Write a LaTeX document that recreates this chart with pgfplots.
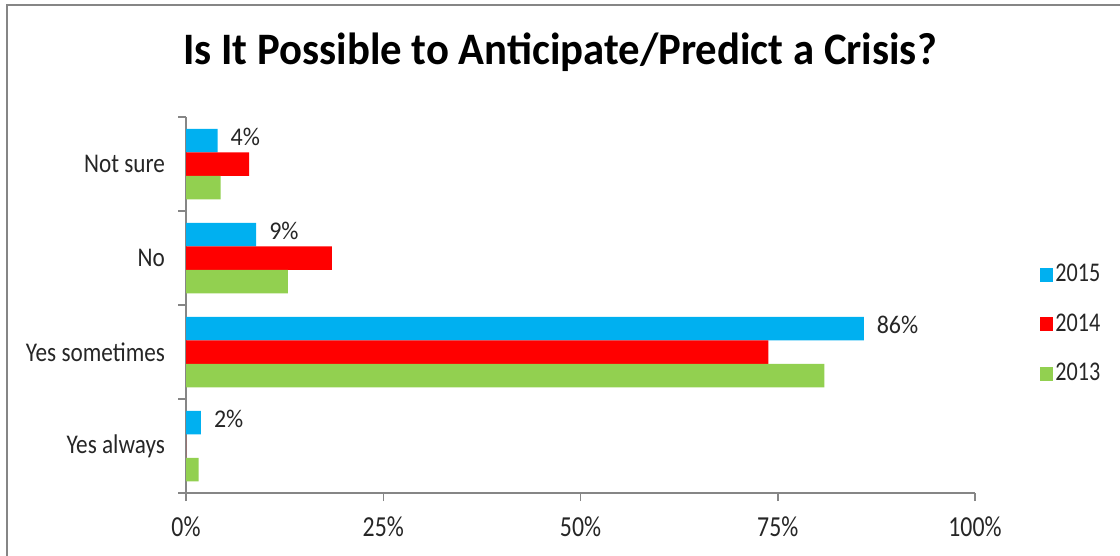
\documentclass[border=0pt]{standalone}
\usepackage{fontspec}
\setmainfont{Carlito}
\newfontfamily\titlefont[FakeStretch=0.95]{Carlito}
\newfontfamily\xfont[FakeStretch=0.82]{Carlito}
\newfontfamily\yfont[FakeStretch=0.86]{Carlito}
\newfontfamily\lfont[FakeStretch=0.82]{Carlito}
\newfontfamily\dfont[FakeStretch=0.94]{Carlito}
\usepackage{pgfplots}
\pgfplotsset{compat=1.18}
\definecolor{c2015}{RGB}{0,176,240}
\definecolor{c2014}{RGB}{255,0,0}
\definecolor{c2013}{RGB}{146,208,80}
\definecolor{axisgray}{RGB}{134,134,134}
\definecolor{txt}{RGB}{38,38,38}
\pgfplotsset{sqlegend/.style={legend image code/.code={\fill[##1,draw=none] (0pt,-3.5pt) rectangle (6.5pt,3.5pt);}}}

\begin{document}
\begin{tikzpicture}
\path[use as bounding box] (0pt,0pt) rectangle (560pt,-278pt);
% chart frame, only left and top edges are in view
\draw[axisgray, line width=1pt] (3.5pt,-278pt) -- (3.5pt,-2.5pt) -- (560pt,-2.5pt);
\node[font=\titlefont\fontsize{22.5}{26}\selectfont\bfseries] at (280pt,-26pt) {Is It Possible to Anticipate/Predict a Crisis?};
\begin{axis}[
    at={(93pt,-246.5pt)}, anchor=south west,
    scale only axis, width=394.5pt, height=188pt,
    xbar, bar width=0.25,
    xmin=0, xmax=100, ymin=-0.5, ymax=3.5,
    axis x line=bottom, axis y line=left,
    axis line style={axisgray, line width=0.75pt, -},
    tick style={axisgray, line width=0.75pt},
    tick align=outside, major tick length=4pt,
    xtick={0,25,50,75,100},
    xticklabels={0\%,25\%,50\%,75\%,100\%},
    ytick={-0.5,0.5,1.5,2.5,3.5},
    yticklabels={,,,,},
    extra y ticks={0,1,2,3},
    extra y tick labels={Yes always,Yes sometimes,No,Not sure},
    extra y tick style={tick style={draw=none},
        yticklabel style={xshift=-3pt, font=\yfont\fontsize{13.5}{16}\selectfont}},
    tick label style={text=txt},
    xticklabel style={yshift=-4.5pt, font=\xfont\fontsize{14.5}{17}\selectfont},
    /pgf/number format/assume math mode=true,
    legend style={at={(1.0824,0.449)}, anchor=west, draw=none, fill=none,
        font=\lfont\fontsize{13.5}{16}\selectfont, text=txt, row sep=9.75pt,
        inner sep=0pt, nodes={inner sep=1pt, text height=10pt, text depth=3pt},
        /tikz/every even column/.append style={column sep=3.5pt}},
    legend cell align=left,
]
\addplot[fill=c2015, draw=none, bar shift=0.25, sqlegend,
    point meta=x,
    nodes near coords={\pgfmathprintnumber[fixed,precision=0]{\pgfplotspointmeta}\%},
    every node near coord/.append style={font=\dfont\fontsize{12.75}{15}\selectfont,
        text=txt, xshift=3pt, yshift=2pt}]
    coordinates {(1.9,0) (85.9,1) (8.9,2) (4.0,3)};
\addlegendentry{2015}
\addplot[fill=c2014, draw=none, bar shift=0, sqlegend]
    coordinates {(0,0) (73.8,1) (18.5,2) (8.0,3)};
\addlegendentry{2014}
\addplot[fill=c2013, draw=none, bar shift=-0.25, sqlegend]
    coordinates {(1.6,0) (80.9,1) (12.9,2) (4.4,3)};
\addlegendentry{2013}
\end{axis}
\end{tikzpicture}
\end{document}
